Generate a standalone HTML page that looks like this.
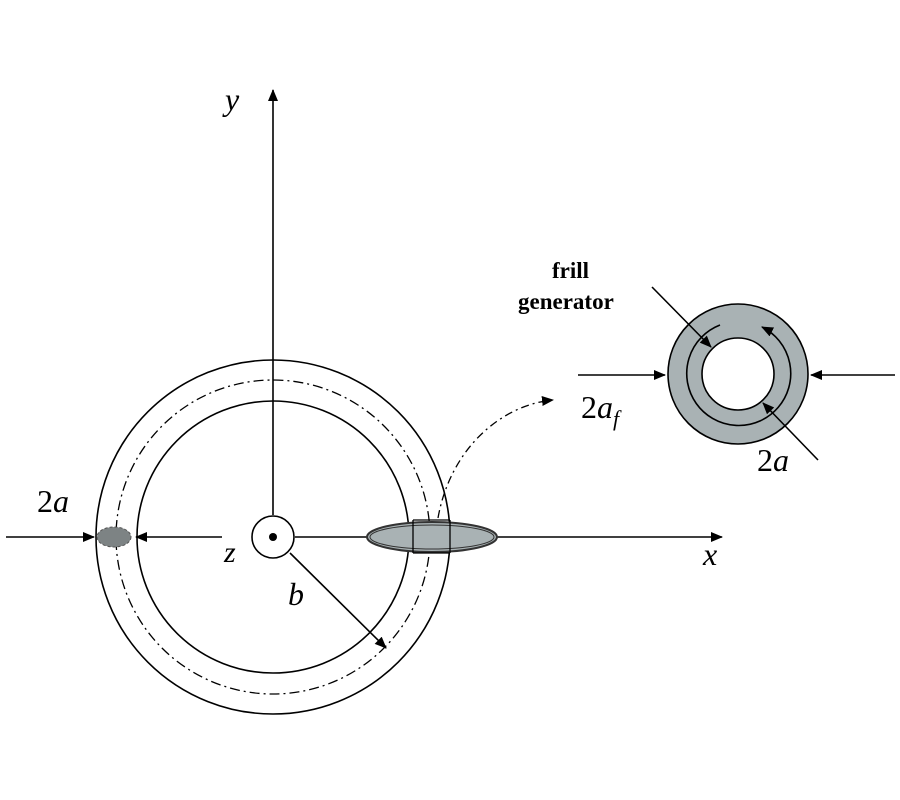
<!DOCTYPE html>
<html><head><style>body{margin:0;background:#fff}svg{display:block}
text{font-family:"Liberation Serif",serif}</style></head><body>
<svg width="900" height="800" viewBox="0 0 900 800">
<defs><marker id="ah" markerWidth="12" markerHeight="10" refX="11" refY="5" orient="auto" markerUnits="userSpaceOnUse"><path d="M0,0 L12,5 L0,10z" fill="#000"/></marker></defs>
<g fill="none" stroke="#000" stroke-width="1.6">
<circle cx="273" cy="537" r="177"/>
<circle cx="273" cy="537" r="136"/>
<circle cx="273" cy="537" r="157" stroke-dasharray="10,4,2,4" stroke-width="1.3"/>
<line x1="273" y1="515" x2="273" y2="90" marker-end="url(#ah)"/>
<line x1="295" y1="537" x2="722" y2="537" marker-end="url(#ah)"/>
<circle cx="273" cy="537" r="21" fill="#fff"/>
<line x1="6" y1="537" x2="94" y2="537" marker-end="url(#ah)"/>
<line x1="222" y1="537" x2="136" y2="537" marker-end="url(#ah)"/>
<line x1="290" y1="553" x2="386" y2="648" marker-end="url(#ah)"/>
<path d="M438,518 C450,450 500,405 553,400" stroke-dasharray="8,4,2,4" stroke-width="1.3" marker-end="url(#ah)"/>
</g>
<circle cx="273" cy="537" r="4" fill="#000"/>
<ellipse cx="114" cy="537" rx="17" ry="10" fill="#7d8384" stroke="#555" stroke-dasharray="3,2"/>
<ellipse cx="432" cy="537" rx="65" ry="15" fill="#a9b2b4" stroke="#333" stroke-width="2"/>
<ellipse cx="432" cy="537" rx="62" ry="12" fill="none" stroke="#333" stroke-width="1"/>
<g stroke="#000" stroke-width="1.3" fill="none">
<line x1="413" y1="520" x2="413" y2="553"/><line x1="450" y1="520" x2="450" y2="553"/>
<line x1="413" y1="520" x2="450" y2="520"/><line x1="413" y1="553" x2="450" y2="553"/>
</g>
<circle cx="738" cy="374" r="70" fill="#a9b2b4" stroke="#000" stroke-width="1.6"/>
<circle cx="738" cy="374" r="36" fill="#fff" stroke="#000" stroke-width="1.6"/>
<g fill="none" stroke="#000" stroke-width="1.6">
<path d="M720,325 A52,52 0 1 0 762,327" marker-end="url(#ah)"/>
<line x1="578" y1="375" x2="665" y2="375" marker-end="url(#ah)"/>
<line x1="895" y1="375" x2="811" y2="375" marker-end="url(#ah)"/>
<line x1="652" y1="287" x2="711" y2="347" marker-end="url(#ah)"/>
<line x1="818" y1="460" x2="763" y2="403" marker-end="url(#ah)"/>
</g>
<text x="225" y="110" font-size="32" font-style="italic">y</text>
<text x="703" y="565" font-size="32" font-style="italic">x</text>
<text x="224" y="562" font-size="30" font-style="italic">z</text>
<text x="288" y="605" font-size="32" font-style="italic">b</text>
<text x="37" y="512" font-size="32">2<tspan font-style="italic">a</tspan></text>
<text x="581" y="418" font-size="32">2<tspan font-style="italic">a</tspan><tspan font-size="22" font-style="italic" dy="8">f</tspan></text>
<text x="757" y="471" font-size="32">2<tspan font-style="italic">a</tspan></text>
<text x="552" y="278" font-size="23" font-weight="bold">frill</text>
<text x="518" y="309" font-size="23" font-weight="bold">generator</text>
</svg>
</body></html>
